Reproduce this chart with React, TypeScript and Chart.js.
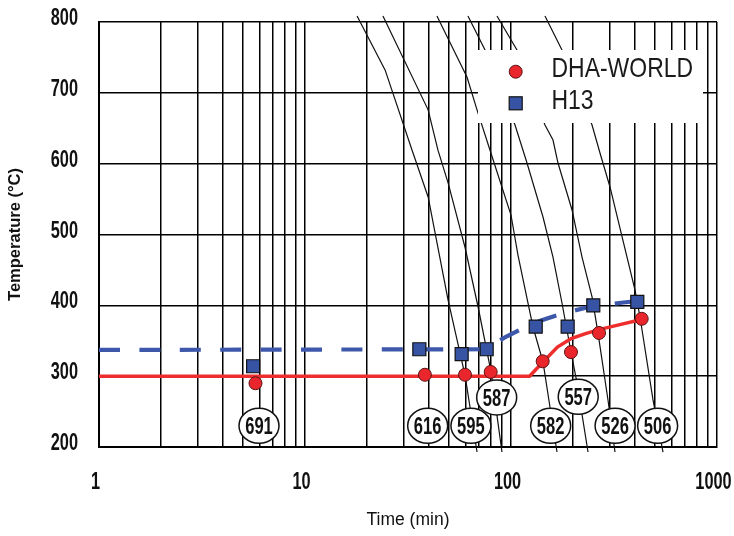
import React, { useEffect, useRef } from 'react';
import { Chart, registerables } from 'chart.js';

Chart.register(...registerables);

const SANS = "'Liberation Sans', Arial, sans-serif";

// ---- axis ticks ----
const xTickLabels = [1, 10, 100, 1000];
const yTickLabels = [200, 300, 400, 500, 600, 700, 800];

// ---- series ----
const seriesNames = ['DHA-WORLD', 'H13'];

const dhaTime = [5.75, 38.2, 59.8, 79.7, 142.5, 195.5, 267.5, 431];
const dhaTemp = [290, 302, 302, 306, 321, 334, 361, 381];

const h13Time = [5.6, 35.9, 57.6, 76.2, 131.8, 188.4, 250.9, 410.3];
const h13Temp = [314, 338, 331, 338, 370, 370, 400, 405];

const dhaFitTime = [1, 123, 143, 168, 196, 230, 270, 330, 430];
const dhaFitTemp = [300, 300, 320, 341, 353, 360, 366, 372, 380];

const h13FitTime = [1, 76, 81, 95, 115, 141, 180, 242, 351, 410];
const h13FitTemp = [337, 338, 344, 356, 368, 379, 389, 398, 404, 406];

// ---- cooling curves (time, temperature) ----
const curve595Time = [17.9, 24.5, 33.1, 39.6, 49.5, 59.8, 68.4];
const curve595Temp = [808.5, 732, 619, 553, 407.5, 301.6, 192.9];

const curve587Time = [23.9, 39.6, 44.2, 49.5, 59.8, 69.2, 80.0, 90.4];
const curve587Temp = [808.5, 676, 619, 573, 482, 398, 306, 192.9];

const curve582Time = [43.7, 61.2, 68.4, 79.1, 100, 108.1, 127.9, 143.0, 154.6, 167.2];
const curve582Temp = [808.5, 722, 676, 619, 527.5, 471, 369.4, 320, 256.5, 192.9];

const curve557Time = [61.8, 74.8, 104.6, 119.6, 143.0, 159.9, 176.8, 195.6, 209.1, 236.5];
const curve557Temp = [808.5, 760.5, 654.6, 600.9, 524.7, 468.2, 403.3, 334.1, 290.4, 192.9];

const curve526Time = [85.5, 106.9, 146.2, 159.9, 169.1, 197.8, 221.2, 247.4, 264.5, 295.7, 319.8];
const curve526Temp = [808.5, 760.5, 654.6, 633.4, 600.9, 534.6, 468.2, 411.8, 360.9, 266.4, 192.9];

const curve506Time = [146.2, 176.8, 247.4, 270.4, 302.4, 365.7, 399.9, 422.9, 489.1, 546.9];
const curve506Temp = [808.5, 760.5, 654.6, 615.1, 567.1, 468.2, 421.6, 383.5, 266.4, 192.9];

// ---- cooling-rate labels ----
const coolingLabels = [691, 616, 595, 587, 582, 557, 526, 506];
const coolingLabelTime = [5.98, 39.4, 63.9, 85.2, 155.8, 212, 320, 515];
const coolingLabelTemp = [230, 230, 230, 270, 230, 271, 230, 230];

const toXY = (xs: number[], ys: number[]) => xs.map((x, i) => ({ x, y: ys[i] }));

function drawScaled(ctx: CanvasRenderingContext2D, text: string, x: number, y: number, sx: number, align: CanvasTextAlign) {
  ctx.save();
  ctx.translate(x, y);
  ctx.scale(sx, 1);
  ctx.textAlign = align;
  ctx.textBaseline = 'middle';
  ctx.fillText(text, 0, 0);
  ctx.restore();
}

const tickLabelPlugin = {
  id: 'condensedTicks',
  afterDraw(chart: any) {
    const { ctx, chartArea } = chart;
    const xs = chart.scales.x;
    const ys = chart.scales.y;
    ctx.save();
    ctx.fillStyle = '#111';
    ctx.font = `bold 24px ${SANS}`;
    yTickLabels.forEach((v) => {
      drawScaled(ctx, String(v), chartArea.left - 21, ys.getPixelForValue(v) - 3.5, 0.68, 'right');
    });
    xTickLabels.forEach((v) => {
      drawScaled(ctx, String(v), xs.getPixelForValue(v) - 3.5, chartArea.bottom + 35.5, 0.68, 'center');
    });
    ctx.restore();
  },
};

const legendBoxPlugin = {
  id: 'legendBox',
  afterDatasetsDraw(chart: any) {
    const { ctx } = chart;
    const ds = chart.data.datasets;
    ctx.save();
    ctx.fillStyle = '#fff';
    ctx.fillRect(478, 50, 225, 73);
    ctx.beginPath();
    ctx.arc(515.7, 71.7, 6.5, 0, Math.PI * 2);
    ctx.fillStyle = ds[0].backgroundColor;
    ctx.fill();
    ctx.lineWidth = 1;
    ctx.strokeStyle = ds[0].borderColor;
    ctx.stroke();
    ctx.fillStyle = ds[1].backgroundColor;
    ctx.fillRect(509.2, 96.8, 13, 13);
    ctx.lineWidth = 1.2;
    ctx.strokeStyle = ds[1].borderColor;
    ctx.strokeRect(509.2, 96.8, 13, 13);
    ctx.fillStyle = '#1a1a1a';
    ctx.font = `28px ${SANS}`;
    drawScaled(ctx, ds[0].label, 551.5, 69, 0.82, 'left');
    drawScaled(ctx, ds[1].label, 551.5, 101, 0.82, 'left');
    ctx.restore();
  },
};

const coolingLabelPlugin = {
  id: 'coolingLabels',
  afterDatasetsDraw(chart: any) {
    const { ctx } = chart;
    const xs = chart.scales.x;
    const ys = chart.scales.y;
    ctx.save();
    coolingLabels.forEach((lab, i) => {
      const cx = xs.getPixelForValue(coolingLabelTime[i]);
      const cy = ys.getPixelForValue(coolingLabelTemp[i]);
      ctx.beginPath();
      ctx.ellipse(cx, cy, 20, 17.5, 0, 0, Math.PI * 2);
      ctx.fillStyle = '#fff';
      ctx.fill();
      ctx.lineWidth = 1.5;
      ctx.strokeStyle = '#111';
      ctx.stroke();
      ctx.fillStyle = '#111';
      ctx.font = `bold 23px ${SANS}`;
      drawScaled(ctx, String(lab), cx, cy + 2, 0.72, 'center');
    });
    ctx.restore();
  },
};

export default function App() {
  const ref = useRef<HTMLCanvasElement>(null);

  useEffect(() => {
    const canvas = ref.current;
    if (!canvas) return;

    const xGridValues: number[] = [];
    for (const decade of [1, 10, 100]) {
      for (let k = 1; k < 10; k++) xGridValues.push(k * decade);
    }
    xGridValues.push(1000);

    const curves: [number[], number[]][] = [
      [curve595Time, curve595Temp],
      [curve587Time, curve587Temp],
      [curve582Time, curve582Temp],
      [curve557Time, curve557Temp],
      [curve526Time, curve526Temp],
      [curve506Time, curve506Temp],
    ];

    const datasets: any[] = [
      {
        label: seriesNames[0],
        data: toXY(dhaTime, dhaTemp),
        showLine: false,
        pointStyle: 'circle',
        pointRadius: 6.5,
        backgroundColor: '#e8262b',
        borderColor: '#5a1414',
        borderWidth: 1,
      },
      {
        label: seriesNames[1],
        data: toXY(h13Time, h13Temp),
        showLine: false,
        pointStyle: 'rect',
        pointRadius: 9.2,
        backgroundColor: '#3753a4',
        borderColor: '#111',
        borderWidth: 1.2,
      },
      {
        label: seriesNames[0] + ' trend',
        data: toXY(dhaFitTime, dhaFitTemp),
        showLine: true,
        pointRadius: 0,
        borderColor: '#ee2d2d',
        borderWidth: 3.5,
        tension: 0,
      },
      {
        label: seriesNames[1] + ' trend',
        data: toXY(h13FitTime, h13FitTemp),
        showLine: true,
        pointRadius: 0,
        borderColor: '#3d58ab',
        borderWidth: 4.2,
        borderDash: [21, 19.4],
        tension: 0,
      },
      ...curves.map(([t, T], i) => ({
        label: 'cooling ' + coolingLabels[i + 2],
        data: toXY(t, T),
        showLine: true,
        pointRadius: 0,
        borderColor: '#111',
        borderWidth: 1.2,
        tension: 0,
        clip: false,
      })),
    ];

    const chart = new Chart(canvas, {
      type: 'scatter',
      data: { datasets },
      plugins: [legendBoxPlugin, coolingLabelPlugin, tickLabelPlugin],
      options: {
        animation: false,
        responsive: false,
        maintainAspectRatio: false,
        layout: { padding: { top: 22, right: 17, bottom: 0, left: 0 } },
        plugins: { legend: { display: false }, tooltip: { enabled: false } },
        scales: {
          x: {
            type: 'logarithmic',
            min: 1,
            max: 1000,
            afterBuildTicks: (s: any) => {
              s.ticks = xGridValues.map((v) => ({ value: v }));
            },
            afterFit: (s: any) => {
              s.height = 89;
              s.paddingLeft = 0;
              s.paddingRight = 0;
            },
            grid: { color: '#000', lineWidth: 1.5, drawTicks: false },
            border: { color: '#000', width: 2 },
            ticks: { display: false },
            title: {
              display: true,
              text: 'Time (min)',
              color: '#111',
              font: { family: SANS, size: 17.5 },
              padding: { top: 0, bottom: 5.5 },
            },
          },
          y: {
            type: 'linear',
            min: 200,
            max: 800,
            afterBuildTicks: (s: any) => {
              s.ticks = yTickLabels.map((v) => ({ value: v }));
            },
            afterFit: (s: any) => {
              s.width = 99;
              s.paddingTop = 0;
              s.paddingBottom = 0;
            },
            grid: { color: '#000', lineWidth: 1.5, drawTicks: false },
            border: { color: '#000', width: 2 },
            ticks: { display: false },
            title: {
              display: true,
              text: 'Temperature (°C)',
              color: '#111',
              font: { family: SANS, size: 16.5, weight: 'bold' },
              padding: { top: 5.6, bottom: 0 },
            },
          },
        },
      } as any,
    });

    return () => chart.destroy();
  }, []);

  return (
    <div style={{ position: 'fixed', left: 0, top: 0, width: 734, height: 536, background: '#fff' }}>
      <canvas ref={ref} width={734} height={536} style={{ display: 'block' }} />
    </div>
  );
}
